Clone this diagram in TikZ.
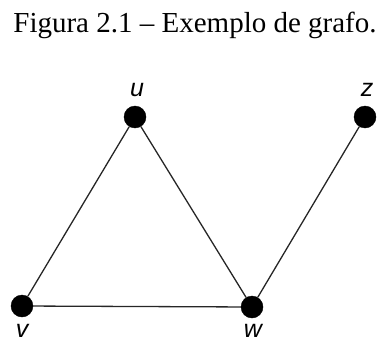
\documentclass[tikz,border=0pt]{standalone}
\usepackage{fontspec}
\setmainfont{Liberation Serif}
\newfontfamily\labfont{Liberation Sans}
\begin{document}
\begin{tikzpicture}[x=1pt,y=-1pt,
  vtx/.style={circle,fill=black,draw=black,inner sep=0pt,minimum size=22pt},
  lab/.style={anchor=base,inner sep=0pt,font=\labfont\itshape\fontsize{25}{25}\selectfont},
  edge/.style={draw=black!85,line width=1.3pt}]
\useasboundingbox (0,0) rectangle (379,342);
\node[anchor=base,inner sep=0pt,font=\fontsize{29}{29}\selectfont] (title) at (195,33) {Figura 2.1 – Exemplo de grafo.};
\node[vtx] (u) at (135,117) {};
\node[vtx] (z) at (365,117) {};
\node[vtx] (v) at (22,306) {};
\node[vtx] (w) at (252,307) {};
\draw[edge] (u) -- (v);
\draw[edge] (u) -- (w);
\draw[edge] (v) -- (w);
\draw[edge] (w) -- (z);
\node[lab] (lu) at (137,96) {u};
\node[lab] (lz) at (367,96) {z};
\node[lab] (lv) at (22,337) {v};
\node[lab] (lw) at (253,337) {w};
\end{tikzpicture}
\end{document}
